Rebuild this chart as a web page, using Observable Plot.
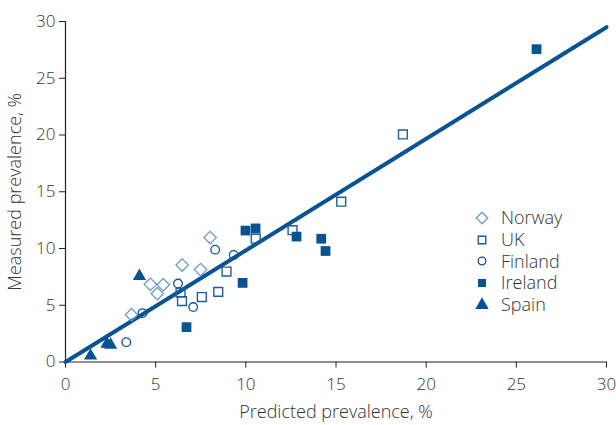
<!DOCTYPE html>
<html><head><meta charset="utf-8">
<script src="https://cdn.jsdelivr.net/npm/d3@7"></script>
<script src="https://cdn.jsdelivr.net/npm/@observablehq/plot@0.6"></script>
<style>
body{margin:0;background:#fff;}
#wrap{position:relative;width:616px;height:425px;}
#legend{position:absolute;left:470px;top:207px;font-family:'Open Sans',sans-serif;font-weight:300;font-size:18px;color:#333;line-height:21.8px;}
#legend .row{display:flex;align-items:center;height:21.8px;}
#legend svg{width:24px;height:20px;margin-right:7px;overflow:visible;}
svg g[aria-label="x-axis label"] text, svg g[aria-label="y-axis label"] text{font-size:18px;}
</style>
</head><body><div id="wrap"><div id="chart"></div><div id="legend"></div></div>
<script>
const countries = ["Norway", "UK", "Finland", "Ireland", "Spain"];
const norwayX = [3.66, 4.71, 5.09, 5.42, 6.47, 7.49, 8.02];
const norwayY = [4.17, 6.84, 6.02, 6.81, 8.54, 8.14, 10.96];
const ukX = [6.38, 6.46, 7.56, 8.47, 8.93, 10.55, 12.59, 15.29, 18.71];
const ukY = [6.11, 5.37, 5.72, 6.18, 7.97, 10.86, 11.61, 14.12, 20.05];
const finlandX = [3.37, 4.27, 6.24, 7.08, 8.30, 9.33];
const finlandY = [1.75, 4.31, 6.91, 4.84, 9.90, 9.43];
const irelandX = [6.71, 9.82, 9.98, 10.54, 12.81, 14.18, 14.42, 26.12];
const irelandY = [3.07, 6.97, 11.58, 11.77, 11.05, 10.86, 9.78, 27.56];
const spainX = [1.39, 2.30, 2.50, 4.10];
const spainY = [0.55, 1.60, 1.50, 7.57];
const fitX = [0, 30];
const fitY = [0, 29.5];
const xTicks = [0, 5, 10, 15, 20, 25, 30];
const yTicks = [0, 5, 10, 15, 20, 25, 30];

const blue = "#0a5393";
const styles = {
  Norway: {symbol: "diamond2", r: 5.6, fill: "none", stroke: "#6b9bd0", strokeWidth: 1.3},
  UK: {symbol: "square", r: 5.0, fill: "none", stroke: "#1e5e9e", strokeWidth: 1.4},
  Finland: {symbol: "circle", r: 4.3, fill: "none", stroke: blue, strokeWidth: 1.3},
  Ireland: {symbol: "square", r: 5.5, fill: blue, stroke: "none"},
  Spain: {symbol: "triangle", r: 4.9, fill: blue, stroke: "none"}
};
const series = {
  Norway: [norwayX, norwayY], UK: [ukX, ukY], Finland: [finlandX, finlandY],
  Ireland: [irelandX, irelandY], Spain: [spainX, spainY]
};
const fit = fitX.map((x, i) => ({x, y: fitY[i]}));

const dotMarks = countries.map(c => {
  const [xs, ys] = series[c];
  const data = xs.map((x, i) => ({x, y: ys[i]}));
  return Plot.dot(data, {x: "x", y: "y", ...styles[c]});
});

const chart = Plot.plot({
  width: 616, height: 425,
  marginLeft: 65, marginRight: 10, marginTop: 21, marginBottom: 63.5,
  style: {fontFamily: "'Open Sans', sans-serif", fontSize: "17px", fontWeight: 300, color: "#333", background: "#fff"},
  x: {domain: [0, 30]},
  y: {domain: [0, 30]},
  marks: [
    Plot.axisX({ticks: xTicks, tickSize: 6, tickPadding: 10, stroke: "#222", fill: "#333",
      label: "Predicted prevalence, %", labelAnchor: "center", labelArrow: "none", labelOffset: 56}),
    Plot.axisY({ticks: yTicks, tickSize: 6, tickPadding: 4, stroke: "#222", fill: "#333",
      label: "Measured prevalence, %", labelAnchor: "center", labelArrow: "none", labelOffset: 57}),
    Plot.ruleY([0], {stroke: "#222", strokeWidth: 1.2}),
    Plot.ruleX([0], {stroke: "#222", strokeWidth: 1.2}),
    Plot.line(fit, {x: "x", y: "y", stroke: blue, strokeWidth: 4}),
    ...dotMarks
  ]
});
document.getElementById("chart").appendChild(chart);

// legend
const legend = d3.select("#legend");
const symMap = {diamond2: d3.symbolDiamond2, square: d3.symbolSquare, circle: d3.symbolCircle, triangle: d3.symbolTriangle};
const legR = {Norway: 5.2, UK: 4.2, Finland: 3.8, Ireland: 4.5, Spain: 5.0};
countries.forEach(c => {
  const s = styles[c];
  const row = legend.append("div").attr("class", "row");
  const svg = row.append("svg");
  svg.append("path")
    .attr("transform", "translate(12,10)")
    .attr("d", d3.symbol(symMap[s.symbol], Math.PI * legR[c] * legR[c])())
    .attr("fill", s.fill).attr("stroke", s.stroke).attr("stroke-width", s.strokeWidth || 0);
  row.append("span").text(c);
});
</script></body></html>
